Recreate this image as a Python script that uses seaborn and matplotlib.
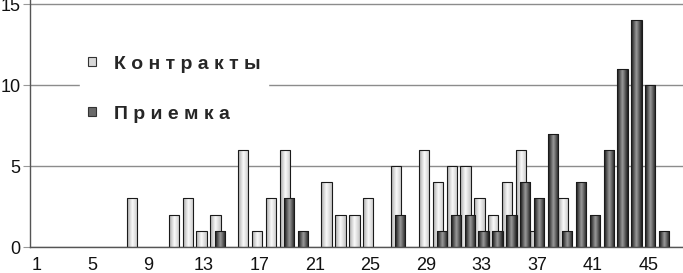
import numpy as np
import pandas as pd
import matplotlib
matplotlib.use('Agg')
import matplotlib.pyplot as plt
import seaborn as sns
from matplotlib.colors import LinearSegmentedColormap
from matplotlib.patches import Patch

# Data ##########################################################################
CATEGORIES = [str(i) for i in range(1, 48)]
SERIES = ['Контракты', 'Приемка']
KONTRAKTY = [0, 0, 0, 0, 0, 0, 0, 3, 0, 0,
             2, 3, 1, 2, 0, 6, 1, 3, 6, 0,
             0, 4, 2, 2, 3, 0, 5, 0, 6, 4,
             5, 5, 3, 2, 4, 6, 1, 0, 3, 0,
             0, 0, 0, 0, 0, 0, 0]
PRIEMKA = [0, 0, 0, 0, 0, 0, 0, 0, 0, 0,
           0, 0, 0, 1, 0, 0, 0, 0, 3, 1,
           0, 0, 0, 0, 0, 0, 2, 0, 0, 1,
           2, 2, 1, 1, 2, 4, 3, 7, 1, 4,
           2, 6, 11, 14, 10, 1, 0]
XTICK_LABELS = [str(i) for i in range(1, 48, 4)]
YTICKS = [0, 5, 10, 15]

BAR_WIDTH = 0.74
OFFSETS = [-0.15, 0.15]
CMAPS = [LinearSegmentedColormap.from_list('light', ['#a8a8a8', '#fbfbfb', '#c4c4c4']),
         LinearSegmentedColormap.from_list('dark', ['#141414', '#9a9a9a', '#1c1c1c'])]

df = pd.DataFrame({
    'category': CATEGORIES * 2,
    'value': KONTRAKTY + PRIEMKA,
    'series': [SERIES[0]] * len(CATEGORIES) + [SERIES[1]] * len(CATEGORIES),
})

sns.set_style('white')
plt.rcParams['font.family'] = ['Liberation Sans', 'DejaVu Sans']

fig = plt.figure(figsize=(6.83, 2.73), dpi=100)
ax = fig.add_axes([30 / 683, 26 / 273, 653 / 683, 247 / 273])

sns.barplot(data=df, x='category', y='value', hue='series', order=CATEGORIES,
            hue_order=SERIES, dodge=False, width=BAR_WIDTH,
            palette=['#dddddd', '#555555'], edgecolor='#1a1a1a', linewidth=0.8,
            ax=ax)
ax.get_legend().remove()

# Shift bars so they overlap, and paint a gradient inside each one ##############
grad = np.linspace(0, 1, 64).reshape(1, -1)
for i, container in enumerate(ax.containers):
    for p in container:
        p.set_x(p.get_x() + OFFSETS[i])
        p.set_zorder(2.1 + i * 0.2)
        h = p.get_height()
        if h <= 0:
            p.set_visible(False)
            continue
        x0 = p.get_x()
        im = ax.imshow(grad, extent=[x0, x0 + p.get_width(), 0, h], cmap=CMAPS[i],
                       aspect='auto', zorder=2.0 + i * 0.2, interpolation='bilinear')
        im.set_clip_path(p)
        p.set_facecolor('none')

ax.set_xlim(-0.5, len(CATEGORIES) - 0.5)
ax.set_ylim(0, 15.25)
ax.set_xlabel('')
ax.set_ylabel('')

# Axes, ticks, grid ##############################################################
ax.set_axisbelow(True)
ax.yaxis.grid(True, color='#8c8c8c', linewidth=1)
ax.set_yticks(YTICKS)
ax.set_xticks(range(0, len(CATEGORIES), 4))
ax.set_xticklabels(XTICK_LABELS)
ax.set_xticks(np.arange(-0.5, len(CATEGORIES), 1), minor=True)
ax.tick_params(axis='x', which='major', length=0, pad=7, labelsize=13, labelcolor='#111111')
ax.tick_params(axis='x', which='minor', length=3, width=0.8, color='#555555', direction='out')
ax.tick_params(axis='y', which='major', length=5, width=0.8, color='#999999', pad=2,
               labelsize=13, labelcolor='#111111', left=True)
for side in ['top', 'right']:
    ax.spines[side].set_visible(False)
for side in ['left', 'bottom']:
    ax.spines[side].set_color('#555555')
    ax.spines[side].set_linewidth(1)

# Legend ########################################################################
handles = [Patch(facecolor='#d8d8d8', edgecolor='#333333', linewidth=0.8),
           Patch(facecolor='#6a6a6a', edgecolor='#333333', linewidth=0.8)]
labels = [' '.join(s) for s in SERIES]
leg = ax.legend(handles, labels, loc='upper left', bbox_to_anchor=(0.062, 0.845),
                frameon=True, framealpha=1, facecolor='white', edgecolor='white',
                handlelength=0.42, handleheight=0.32, handletextpad=0.9,
                labelspacing=1.7, borderpad=0.4, fancybox=False,
                prop={'weight': 'bold', 'size': 14})
leg.set_zorder(5)

fig.savefig('out.png', dpi=100)
plt.close(fig)
